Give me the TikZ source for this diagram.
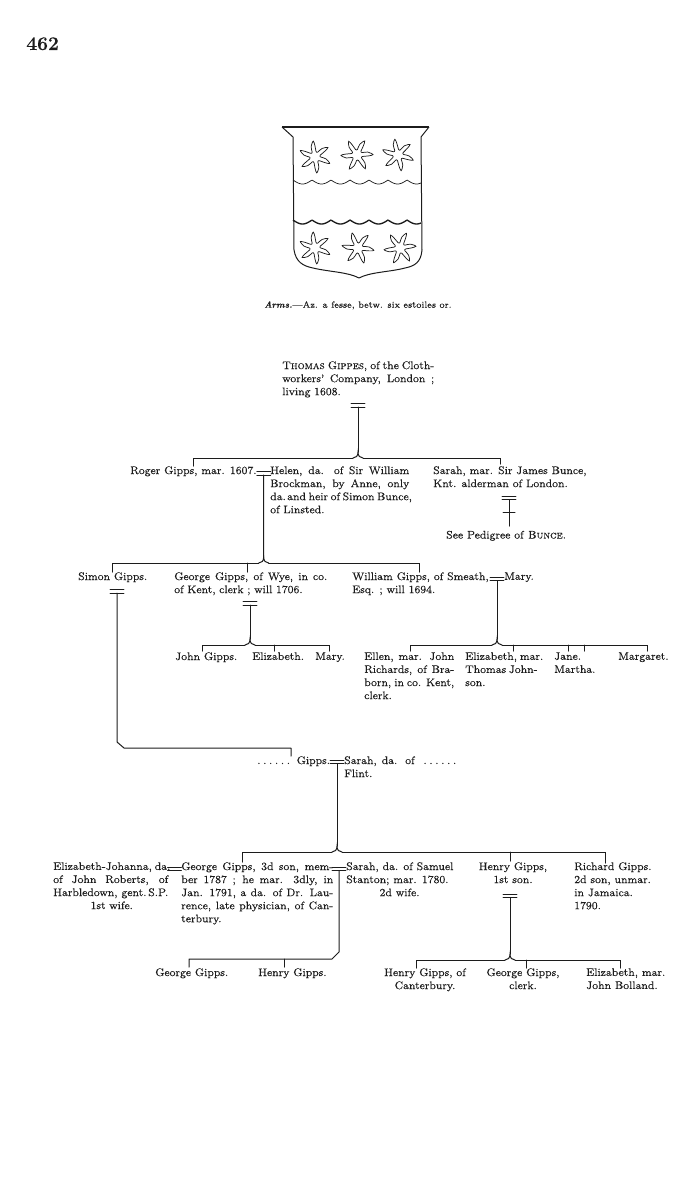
\documentclass[tikz,border=0pt]{standalone}
\usepackage{fontspec}
\setmainfont{Latin Modern Roman}[FakeBold=0.12,SmallCapsFont={Latin Modern Roman Caps},SmallCapsFeatures={FakeBold=0.12}]
\usetikzlibrary{positioning}

\definecolor{inkc}{HTML}{1C1C1C}
\newcommand{\pagefont}{\fontsize{8.25}{9.8}\selectfont}
% one printed line set out to the full width of its node
\newcommand{\jl}[1]{\leavevmode\hbox to\hsize{\spaceskip=0pt\xspaceskip=0pt #1}\\}
\newcommand{\dotrow}{.\kern2pt.\kern2pt.\kern2pt.\kern2pt.\kern2pt.}

\tikzset{
	x=0.75pt, y=-0.75pt,
	declare function={estR(\t)=5+11*pow(cos(3*\t)*cos(3*\t),2);},
	link/.style={draw=inkc, line width=0.75pt, line cap=round},
	person/.style={inner sep=0pt, anchor=north west, font=\pagefont, text=inkc, align=left},
	just/.style={person, text width=#1*0.75pt},
	mid/.style={person, anchor=north, align=center},
	wed/.style={inner sep=0pt, minimum width=10pt, minimum height=2.2pt,
		append after command={(\tikzlastnode.north west) edge[link,-] (\tikzlastnode.north east)
		(\tikzlastnode.south west) edge[link,-] (\tikzlastnode.south east)}},
}

% peak over a row of children: #1T apex, #1L and #1R the two ends of the bus
\newcommand{\junction}[3]{
	\coordinate (#1T) at (#2,#3-6);
	\coordinate (#1L) at (#2-5,#3);
	\coordinate (#1R) at (#2+5,#3);
	\draw[link] (#1L) .. controls (#2-2,#3) and (#2,#3-2) .. (#1T) .. controls (#2,#3-2) and (#2+2,#3) .. (#1R);
}
\newcommand{\estoile}[3]{
	\draw[draw=inkc, line width=0.55pt] plot[smooth cycle, tension=0.55, samples at={0,10,...,350}, variable=\t]
	({#1+estR(\t)*cos(\t+#3+0.5*estR(\t)*sin(32*estR(\t)))}, {#2+estR(\t)*sin(\t+#3+0.5*estR(\t)*sin(32*estR(\t)))});
}

\begin{document}
\begin{tikzpicture}
	\useasboundingbox (0,0) rectangle (690,1179);

	\node[person, font=\fontsize{14.5}{16}\selectfont\bfseries] (pageno) at (26,37) {462};

	% the arms
	\draw[draw=inkc, line width=1.1pt] (282,127) -- (429,127);
	\draw[draw=inkc, line width=0.75pt, line join=round] (282,127) -- (293,137) -- (294,250)
		.. controls (296,262) and (303,266) .. (313,268)
		.. controls (330,272) and (348,272) .. (359,278)
		.. controls (370,272) and (390,272) .. (405,268)
		.. controls (415,266) and (421,262) .. (422,250)
		-- (421,137) -- (429,127);
	\draw[draw=inkc, line width=0.55pt] plot[domain=293:421, samples=140] (\x,{180+4*abs(sin(9.47*(\x-293)))});
	\draw[draw=inkc, line width=1pt] plot[domain=293:421, samples=140] (\x,{220+4*abs(sin(9.47*(\x-293)))});
	\estoile{315}{157}{20}
	\estoile{357}{155}{-5}
	\estoile{398}{155}{15}
	\estoile{315}{248}{20}
	\estoile{358}{248}{5}
	\estoile{400}{248}{-10}
	\node[person, font=\fontsize{6.8}{8}\selectfont] (arms) at (264,301) {\textit{\textbf{Arms.}}---Az. a fesse, betw. six estoiles or.};

	% first generation
	\node[just=152] (thomas) at (282,361) {\jl{\textsc{Thomas Gippes}, of the Cloth-}\jl{workers' Company, London ;}living 1608.};
	\node[wed] (wedA) at (358,405.5) {};

	\node[person] (roger) at (130,466) {Roger Gipps, mar. 1607.};
	\node[wed, right=0pt of roger, yshift=-1.5pt] (wedB) {};
	\node[just=139] (helen) at (270,466) {\jl{Helen, da. of Sir William}\jl{Brockman, by Anne, only}\jl{da.\kern1pt and heir of Simon Bunce,}of Linsted.};
	\node[person] (sarahB) at (433,466) {Sarah, mar. Sir James Bunce,\\ Knt. alderman of London.};
	\node[wed] (wedC) at (509,498) {};
	\node[person] (seeBunce) at (446,530.5) {See Pedigree of \textsc{Bunce}.};
	\coordinate (sarahDrop) at (500,464);
	\coordinate (crossEnd) at (509,526);
	\coordinate (crossL) at (503,512);
	\coordinate (crossR) at (515,512);

	\junction{busA}{358}{458}
	\draw[link] (wedA.south) -- (busAT);
	\draw[link] (busAL) -| (roger.north);
	\draw[link] (busAR) -| (sarahDrop);
	\draw[link] (wedC.south) -- (crossEnd);
	\draw[link] (crossL) -- (crossR);

	% second generation
	\node[person] (simon) at (78,572) {Simon Gipps.};
	\node[wed] (wedD) at (117,591.5) {};
	\node[just=153] (georgeW) at (174,572) {\jl{George Gipps, of Wye, in co.}of Kent, clerk ; will 1706.};
	\node[wed] (wedE) at (250,603.5) {};
	\node[person] (williamS) at (352,572) {William Gipps, of Smeath,\\ Esq. ; will 1694.};
	\node[wed] (wedF) at (497,579) {};
	\node[person] (maryS) at (504,572) {Mary.};
	\coordinate (simonDrop) at (112,572);
	\coordinate (georgeDrop) at (247,572);
	\coordinate (williamDrop) at (419,572);

	\junction{busB}{263.7}{563}
	\draw[link] (wedB.south) -- (busBT);
	\draw[link] (busBL) -| (simonDrop);
	\draw[link] (busBR) -| (williamDrop);
	\draw[link] (georgeDrop) -- (georgeDrop |- busBL);

	% children of George and of William
	\node[person] (johnG) at (175,652) {John Gipps.};
	\node[person] (elizG) at (252,652) {Elizabeth.};
	\node[person] (maryG) at (315,652) {Mary.};
	\node[just=90] (ellen) at (364,652) {\jl{Ellen, mar. John}\jl{Richards, of Bra-}\jl{born, in co. Kent,}clerk.};
	\node[just=72] (elizW) at (465,652) {\jl{Elizabeth, mar.}\jl{Thomas John-}son.};
	\node[person] (janeW) at (554,652) {Jane.\\ Martha.};
	\node[person] (margaret) at (618,652) {Margaret.};
	\coordinate (johnDrop) at (202,651);
	\coordinate (elizGDrop) at (274,651);
	\coordinate (maryGDrop) at (329,651);
	\coordinate (ellenDrop) at (410,651);
	\coordinate (elizWDrop) at (513,651);
	\coordinate (janeDrop) at (568,651);
	\coordinate (marthaDrop) at (584,651);
	\coordinate (margaretDrop) at (647,651);

	\junction{busC}{250}{645}
	\draw[link] (wedE.south) -- (busCT);
	\draw[link] (busCL) -| (johnDrop);
	\draw[link] (busCR) -| (maryGDrop);
	\draw[link] (elizGDrop) -- (elizGDrop |- busCL);

	\junction{busD}{497}{645}
	\draw[link] (wedF.south) -- (busDT);
	\draw[link] (busDL) -| (ellenDrop);
	\draw[link] (busDR) -| (margaretDrop);
	\draw[link] (elizWDrop) -- (elizWDrop |- busDL);
	\draw[link] (janeDrop) -- (janeDrop |- busDL);
	\draw[link] (marthaDrop) -- (marthaDrop |- busDL);

	% the son of Simon
	\node[person] (gipps) at (257,756) {\dotrow\kern5pt Gipps.};
	\node[wed] (wedG) at (337,762) {};
	\node[just=112] (sarahF) at (344,756) {\jl{Sarah, da. of \kern3pt\dotrow}Flint.};
	\coordinate (simonBend) at (117,742);
	\coordinate (simonCorner) at (124,748);
	\coordinate (gippsDrop) at (291,756);
	\draw[link, line join=round] (wedD.south) -- (simonBend) -- (simonCorner) -| (gippsDrop);

	% third generation
	\node[just=115] (elizJ) at (53,862) {\jl{Elizabeth-Johanna, da.}\jl{of John Roberts, of}\jl{Harbledown, gent.\,S.P.}\hspace*{28pt}1st wife.};
	\node[wed] (wedH) at (174.5,869) {};
	\node[just=152] (georgeT) at (181,862) {\jl{George Gipps, 3d son, mem-}\jl{ber 1787 ; he mar. 3dly, in}\jl{Jan. 1791, a da. of Dr. Lau-}\jl{rence, late physician, of Can-}terbury.};
	\node[wed] (wedJ) at (339,869) {};
	\node[person] (sarahS) at (346,862) {Sarah, da. of Samuel\\ Stanton; mar. 1780.\\ \hspace*{25pt}2d wife.};
	\node[mid] (henryF) at (513,862) {Henry Gipps,\\ 1st son.};
	\node[wed] (wedK) at (510,896) {};
	\node[person] (richard) at (574,862) {Richard Gipps.\\ 2d son, unmar.\\ in Jamaica.\\ 1790.};
	\coordinate (georgeTDrop) at (242,862);
	\coordinate (henryFDrop) at (510,861);
	\coordinate (richardDrop) at (605,863);

	\junction{busE}{337}{852}
	\draw[link] (wedG.south) -- (busET);
	\draw[link] (busEL) -| (georgeTDrop);
	\draw[link] (busER) -| (richardDrop);
	\draw[link] (henryFDrop) -- (henryFDrop |- busEL);

	% children of George and of Henry
	\node[person] (georgeK) at (155,968) {George Gipps.};
	\node[person] (henryK) at (258,968) {Henry Gipps.};
	\node[mid] (henryC) at (425,968) {Henry Gipps, of\\ Canterbury.};
	\node[mid] (georgeC) at (523,968) {George Gipps,\\ clerk.};
	\node[person] (elizC) at (586,968) {Elizabeth, mar.\\ John Bolland.};
	\coordinate (georgeTBend) at (339,952);
	\coordinate (georgeTCorner) at (332,959);
	\coordinate (georgeKDrop) at (189,967);
	\coordinate (henryKDrop) at (284,967);
	\coordinate (henryCDrop) at (416,968);
	\coordinate (georgeCDrop) at (526,968);
	\coordinate (elizCDrop) at (620,968);
	\draw[link, line join=round] (wedJ.south) -- (georgeTBend) -- (georgeTCorner) -| (georgeKDrop);
	\draw[link] (henryKDrop) -- (henryKDrop |- georgeTCorner);

	\junction{busF}{510}{960}
	\draw[link] (wedK.south) -- (busFT);
	\draw[link] (busFL) -| (henryCDrop);
	\draw[link] (busFR) -| (elizCDrop);
	\draw[link] (georgeCDrop) -- (georgeCDrop |- busFR);
\end{tikzpicture}
\end{document}
